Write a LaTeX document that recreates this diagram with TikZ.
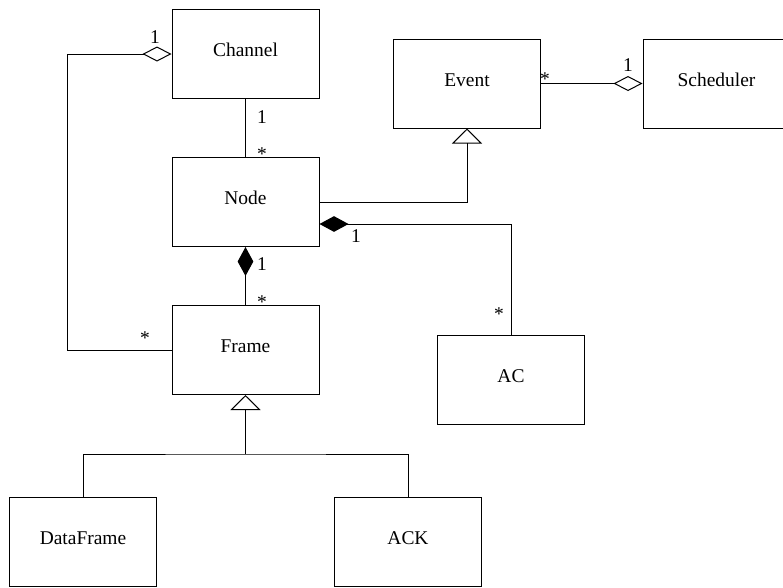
\documentclass[tikz,border=0pt]{standalone}
\usepackage{fontspec}
\setmainfont{Liberation Serif}
\usetikzlibrary{arrows.meta}
\begin{document}
\begin{tikzpicture}[x=0.75pt,y=-0.75pt,line width=0.75pt,
	font=\fontsize{14.6}{17}\selectfont,
	cls/.style={draw,minimum width=110.25pt,minimum height=66.75pt,
		text height=0.7em,text depth=0.3em},
	mult/.style={inner sep=0pt},
	agg/.style={arrows={Diamond[open,length=21.75pt,width=11.25pt]-}},
	comp/.style={arrows={Diamond[length=21.75pt,width=11.75pt]-}},
	gen/.style={arrows={Triangle[open,length=11.25pt,width=22.5pt]-}}]
	\useasboundingbox (0,0) rectangle (783,587);
	\clip (0,0) rectangle (783,587);
	% classes
	\node[cls] (channel) at (245.5,54) {Channel};
	\node[cls] (event) at (467,83.5) {Event};
	\node[cls] (sched) at (716.5,83.5) {Scheduler};
	\node[cls] (nd) at (245.5,202) {Node};
	\node[cls] (frame) at (245.5,350) {Frame};
	\node[cls] (ac) at (511,379.5) {AC};
	\node[cls] (data) at (83,542) {DataFrame};
	\node[cls] (ack) at (408,542) {ACK};
	% associations
	\draw[agg] (channel.west) -- ++(-104,0) |- (frame.west);
	\draw (channel.south) -- (nd.north);
	\draw[agg] (sched.west) -- (event.east);
	\draw[gen] (event.south) |- (nd.east);
	\draw[comp] ([yshift=-16.5pt]nd.east) -| (ac.north);
	\draw[comp] (nd.south) -- (frame.north);
	\draw[gen] (frame.south) -- ++(0,59) coordinate (fsplit);
	\draw (data.north) |- (fsplit) -| (ack.north);
	% multiplicities
	\node[mult] at (155,37) {1};
	\node[mult] at (145,338) {*};
	\node[mult] at (262,117) {1};
	\node[mult] at (262,154) {*};
	\node[mult] at (545,79) {*};
	\node[mult] at (628,65) {1};
	\node[mult] at (356,236) {1};
	\node[mult] at (499,314) {*};
	\node[mult] at (262,264) {1};
	\node[mult] at (262,302) {*};
\end{tikzpicture}
\end{document}
